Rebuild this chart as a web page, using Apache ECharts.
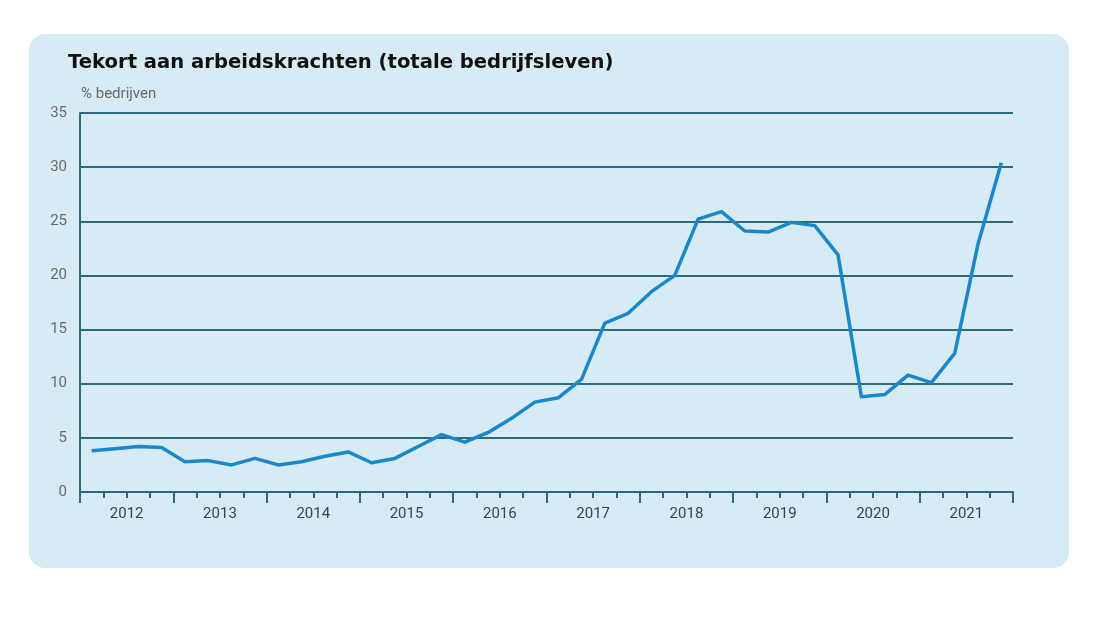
<!DOCTYPE html>
<html><head><meta charset="utf-8">
<script src="https://cdn.jsdelivr.net/npm/echarts@6/dist/echarts.min.js"></script>
<style>html,body{margin:0;padding:0;background:#fff;}#c{width:1110px;height:625px;}</style>
</head><body><div id="c"></div>
<script>
const years = ['2012','2013','2014','2015','2016','2017','2018','2019','2020','2021'];
const quarters = ['Q1','Q2','Q3','Q4'];
const tekort = [
  3.8, 4.0, 4.2, 4.1,
  2.8, 2.9, 2.5, 3.1,
  2.5, 2.8, 3.3, 3.7,
  2.7, 3.1, 4.2, 5.3,
  4.6, 5.5, 6.8, 8.3,
  8.7, 10.4, 15.6, 16.5,
  18.5, 20.0, 25.2, 25.9,
  24.1, 24.0, 24.9, 24.6,
  21.9, 8.8, 9.0, 10.8,
  10.1, 12.8, 22.9, 30.4
];
const titleText = 'Tekort aan arbeidskrachten (totale bedrijfsleven)';
const unitText = '% bedrijven';

const quarterCats = [];
years.forEach(y => quarters.forEach(q => quarterCats.push(y + ' ' + q)));

const axisColor = '#2d6a7d';
const chart = echarts.init(document.getElementById('c'));
chart.setOption({
  animation: false,
  backgroundColor: '#ffffff',
  graphic: [
    { type: 'rect', z: -10, silent: true,
      shape: { x: 29, y: 34, width: 1040, height: 534, r: 16 },
      style: { fill: '#d6ebf3' } },
    { type: 'text', left: 68, top: 53,
      style: { text: titleText, fontFamily: 'DejaVu Sans', fontWeight: 'bold', fontSize: 19.6, fill: '#111111' } },
    { type: 'text', left: 81, top: 87,
      style: { text: unitText, fontFamily: 'Roboto', fontSize: 15, fill: '#6a6a6a' } }
  ],
  grid: { left: 80, right: 97, top: 113, bottom: 133, containLabel: false },
  xAxis: [
    { type: 'category', data: quarterCats, position: 'bottom', boundaryGap: true,
      axisLine: { show: true, lineStyle: { color: axisColor, width: 2 } },
      axisTick: { show: true, length: 6, interval: 0, lineStyle: { color: axisColor, width: 2 } },
      axisLabel: { show: false }, splitLine: { show: false } },
    { type: 'category', data: years, position: 'bottom', boundaryGap: true,
      axisLine: { show: false },
      axisTick: { show: true, length: 11, interval: 0, lineStyle: { color: axisColor, width: 2 } },
      axisLabel: { show: true, interval: 0, margin: 15, fontFamily: 'Roboto', fontSize: 15, color: '#34455a' },
      splitLine: { show: false } }
  ],
  yAxis: {
    type: 'value', min: 0, max: 35, interval: 5,
    axisLine: { show: true, lineStyle: { color: axisColor, width: 2 } },
    axisTick: { show: false },
    axisLabel: { margin: 13, fontFamily: 'Roboto', fontSize: 15, color: '#6a6a6a' },
    splitLine: { show: true, lineStyle: { color: axisColor, width: 2 } }
  },
  series: [{
    type: 'line', xAxisIndex: 0, data: tekort,
    showSymbol: false, symbol: 'none',
    lineStyle: { color: '#1b87cb', width: 3.5, join: 'round' },
    z: 5
  }]
});
</script></body></html>
